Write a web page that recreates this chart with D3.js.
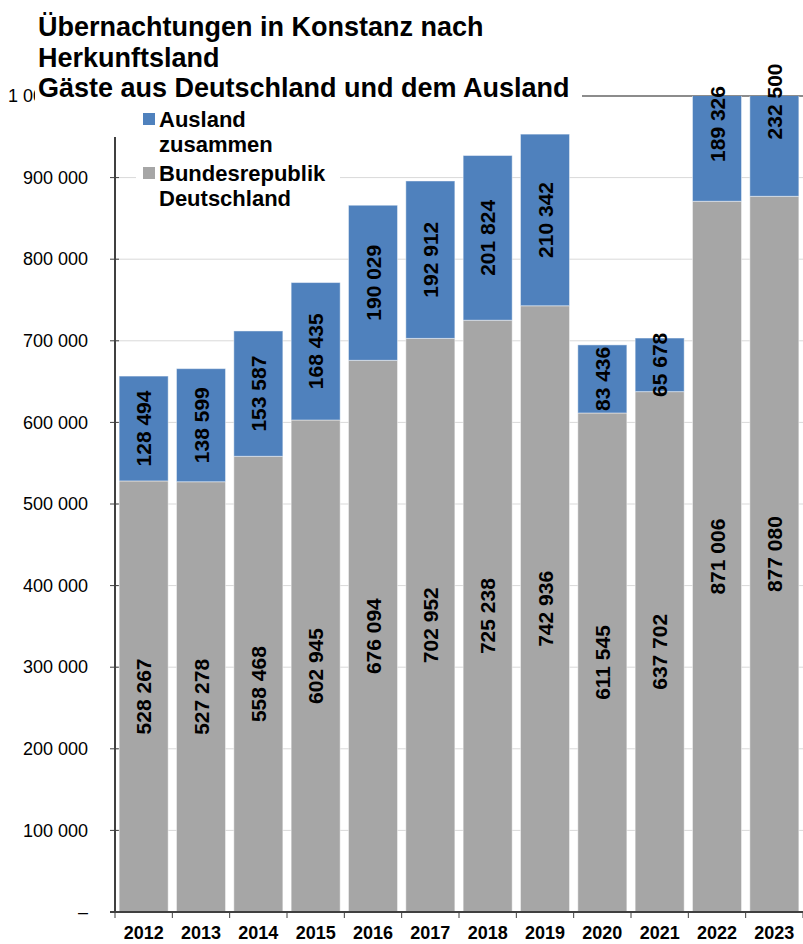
<!DOCTYPE html>
<html>
<head>
<meta charset="utf-8">
<script src="https://cdn.jsdelivr.net/npm/d3@7"></script>
<style>
  html, body { margin: 0; padding: 0; background: #fff; }
  svg { display: block; font-family: "Liberation Sans", Arial, sans-serif; }
</style>
</head>
<body>
<svg id="chart" width="803" height="944"></svg>
<script>
// ---- data ----
const years = ["2012","2013","2014","2015","2016","2017","2018","2019","2020","2021","2022","2023"];
const deutschland = [528267, 527278, 558468, 602945, 676094, 702952, 725238, 742936, 611545, 637702, 871006, 877080];
const ausland = [128494, 138599, 153587, 168435, 190029, 192912, 201824, 210342, 83436, 65678, 189326, 232500];
const yTickValues = [0, 100000, 200000, 300000, 400000, 500000, 600000, 700000, 800000, 900000, 1000000];
const yTickLabels = ["–", "100 000", "200 000", "300 000", "400 000", "500 000", "600 000", "700 000", "800 000", "900 000", "1 000 000"];
const titleLines = ["Übernachtungen in Konstanz nach", "Herkunftsland", "Gäste aus Deutschland und dem Ausland"];
const legendItems = [
  { lines: ["Ausland", "zusammen"], color: "#4f81bd" },
  { lines: ["Bundesrepublik", "Deutschland"], color: "#a6a6a6" }
];

(function () {
const COL_DE = "#a6a6a6", COL_AU = "#4f81bd";
const fmt = v => d3.format(",")(v).replace(/,/g, " ");

const svg = d3.select("#chart");
const pL = 115, pR = 803, pT = 96, pB = 912;

const x = d3.scaleBand().domain(years).range([pL, pR]).paddingInner(0.145).paddingOuter(0.0725);
const y = d3.scaleLinear().domain([0, 1000000]).range([pB, pT]);

// gridlines
svg.append("g").selectAll("line").data(yTickValues.filter(v => v > 0 && v < 1000000)).join("line")
  .attr("x1", pL).attr("x2", pR).attr("y1", d => y(d)).attr("y2", d => y(d))
  .attr("stroke", "#d9d9d9").attr("stroke-width", 1);
// top border line
svg.append("line").attr("x1", pL).attr("x2", pR).attr("y1", y(1000000)).attr("y2", y(1000000))
  .attr("stroke", "#8c8c8c").attr("stroke-width", 2);

// y axis
const yAxis = d3.axisLeft(y).tickValues(yTickValues).tickFormat((d, i) => yTickLabels[i]).tickSize(0).tickPadding(27);
const gy = svg.append("g").attr("transform", `translate(${pL},0)`).call(yAxis);
gy.select(".domain").remove();
gy.selectAll("text").attr("font-size", 18).attr("fill", "#000").attr("font-family", "Liberation Sans, Arial, sans-serif");
svg.append("g").selectAll("line").data(yTickValues).join("line")
  .attr("x1", pL - 5).attr("x2", pL + 4).attr("y1", d => y(d)).attr("y2", d => y(d))
  .attr("stroke", "#404040").attr("stroke-width", 1);
svg.append("line").attr("x1", pL).attr("x2", pL).attr("y1", pT).attr("y2", pB + 1)
  .attr("stroke", "#404040").attr("stroke-width", 2);

// title background box
svg.append("rect").attr("x", 35).attr("y", 0).attr("width", 547).attr("height", 137).attr("fill", "#fff");

// clip for bars
svg.append("clipPath").attr("id", "plotclip").append("rect")
  .attr("x", pL).attr("y", pT).attr("width", pR - pL).attr("height", pB - pT);

const barsG = svg.append("g").attr("clip-path", "url(#plotclip)");
barsG.selectAll("rect.de").data(years).join("rect").attr("class", "de")
  .attr("x", d => x(d)).attr("width", x.bandwidth())
  .attr("y", (d, i) => y(deutschland[i])).attr("height", (d, i) => y(0) - y(deutschland[i]))
  .attr("fill", COL_DE).attr("stroke", "#ffffff").attr("stroke-opacity", 0.45).attr("stroke-width", 1);
barsG.selectAll("rect.au").data(years).join("rect").attr("class", "au")
  .attr("x", d => x(d)).attr("width", x.bandwidth())
  .attr("y", (d, i) => y(deutschland[i] + ausland[i])).attr("height", (d, i) => y(deutschland[i]) - y(deutschland[i] + ausland[i]))
  .attr("fill", COL_AU).attr("stroke", "#ffffff").attr("stroke-opacity", 0.45).attr("stroke-width", 1);

// x axis
svg.append("line").attr("x1", pL - 5).attr("x2", pR).attr("y1", pB).attr("y2", pB)
  .attr("stroke", "#404040").attr("stroke-width", 2);
const boundaries = years.map(d => x(d) - x.step() * x.paddingInner() / 2).concat([pR]);
svg.append("g").selectAll("line").data(boundaries).join("line")
  .attr("x1", d => d).attr("x2", d => d).attr("y1", pB).attr("y2", pB + 6)
  .attr("stroke", "#404040").attr("stroke-width", 1);
svg.append("g").selectAll("text").data(years).join("text")
  .attr("x", d => x(d) + x.bandwidth() / 2).attr("y", 939)
  .attr("text-anchor", "middle").attr("font-size", 18).attr("font-weight", "bold").attr("fill", "#000")
  .text(d => d);

// data labels
function addLabels(cls, getMid, vals) {
  svg.append("g").selectAll("text." + cls).data(years).join("text").attr("class", cls)
    .attr("transform", (d, i) => `translate(${x(d) + x.bandwidth() / 2},${getMid(i)}) rotate(-90)`)
    .attr("text-anchor", "middle").attr("dy", "0.36em")
    .attr("font-size", 21).attr("font-weight", "bold").attr("fill", "#000")
    .text((d, i) => fmt(vals[i]));
}
addLabels("lde", i => y(deutschland[i] / 2), deutschland);
addLabels("lau", i => y(deutschland[i] + ausland[i] / 2), ausland);

// legend
svg.append("rect").attr("x", 136).attr("y", 100).attr("width", 204).attr("height", 122).attr("fill", "#fff");
const legY = [113, 167];
legendItems.forEach((it, k) => {
  svg.append("rect").attr("x", 143).attr("y", legY[k]).attr("width", 12).attr("height", 12).attr("fill", it.color);
  it.lines.forEach((ln, j) => {
    svg.append("text").attr("x", 159).attr("y", legY[k] + 14 + j * 25)
      .attr("font-size", 22).attr("font-weight", "bold").attr("fill", "#000").text(ln);
  });
});

// title
const titleBase = [36, 67, 97];
titleLines.forEach((t, i) => {
  svg.append("text").attr("x", 38).attr("y", titleBase[i])
    .attr("font-size", 27).attr("font-weight", "bold").attr("fill", "#000").text(t);
});
})();
</script>
</body>
</html>
